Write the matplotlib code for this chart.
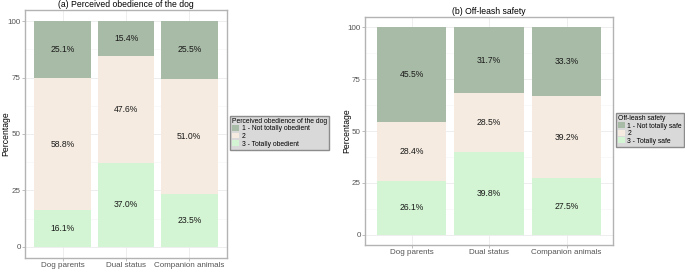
import numpy as np
import matplotlib.pyplot as plt
from matplotlib.patches import Patch

plt.rcParams['font.family'] = ['Liberation Sans', 'DejaVu Sans']

groups = ['Dog parents', 'Dual status', 'Companion animals']

# (a) perceived obedience, levels 1 / 2 / 3
obed_1 = [25.1, 15.4, 25.5]
obed_2 = [58.8, 47.6, 51.0]
obed_3 = [16.1, 37.0, 23.5]
obed_labels = ['1 - Not totally obedient', '2', '3 - Totally obedient']

# (b) off-leash safety
safe_1 = [45.5, 31.7, 33.3]
safe_2 = [28.4, 28.5, 39.2]
safe_3 = [26.1, 39.8, 27.5]
safe_labels = ['1 - Not totally safe', '2', '3 - Totally safe']

colors = ['#a8bba6', '#f5ebe0', '#d3f5d3']

fig = plt.figure(figsize=(6.85, 2.69), dpi=100)


def panel(ax, s1, s2, s3, title, leg_title, leg_labels, leg_pos, ylab_x):
    x = np.arange(len(groups))
    bottoms = np.zeros(len(groups))
    for vals, c in [(s3, colors[2]), (s2, colors[1]), (s1, colors[0])]:
        vals = np.array(vals)
        ax.bar(x, vals, bottom=bottoms, width=0.9, color=c, zorder=2)
        for xi, b, v in zip(x, bottoms, vals):
            ax.text(xi, b + v / 2, f'{v:.1f}%', ha='center', va='center',
                    fontsize=6.2, color='#1a1a1a', zorder=3)
        bottoms = bottoms + vals
    ax.set_xlim(-0.6, 2.6)
    ax.set_ylim(-5, 105)
    ax.set_yticks([0, 25, 50, 75, 100])
    ax.set_yticks([12.5, 37.5, 62.5, 87.5], minor=True)
    ax.set_xticks(x)
    ax.set_xticklabels(groups)
    ax.tick_params(axis='both', labelsize=5.8, colors='#b3b3b3', labelcolor='#555555',
                   length=2, width=0.6, pad=1)
    ax.tick_params(axis='y', which='minor', length=0)
    ax.grid(True, which='major', color='#ebebeb', lw=0.6, zorder=0)
    ax.grid(True, which='minor', axis='y', color='#f5f5f5', lw=0.4, zorder=0)
    for sp in ax.spines.values():
        sp.set_color('#b3b3b3')
        sp.set_linewidth(1.0)
    ax.set_ylabel('Percentage', fontsize=6.2, va='center')
    ax.yaxis.set_label_coords(ylab_x, 0.5)
    ax.set_title(title, fontsize=6.2, pad=2)
    handles = [Patch(facecolor=c, edgecolor='none') for c in colors]
    leg = fig.legend(handles, leg_labels, title=leg_title, loc='upper left',
                     bbox_to_anchor=leg_pos, fontsize=4.9, title_fontsize=4.9,
                     frameon=True, fancybox=False, handlelength=1.0, handleheight=0.9,
                     handletextpad=0.4, labelspacing=0.05, borderpad=0.3,
                     borderaxespad=0)
    leg._legend_box.align = 'left'
    fr = leg.get_frame()
    fr.set_facecolor('#d9d9d9')
    fr.set_edgecolor('#8c8c8c')
    fr.set_linewidth(1.0)
    fr.set_alpha(1)


ax1 = fig.add_axes([0.0365, 0.041, 0.295, 0.922])
panel(ax1, obed_1, obed_2, obed_3, '(a) Perceived obedience of the dog',
      'Perceived obedience of the dog', obed_labels, (0.336, 0.569), -0.096)

ax2 = fig.add_axes([0.533, 0.089, 0.362, 0.848])
panel(ax2, safe_1, safe_2, safe_3, '(b) Off-leash safety',
      'Off-leash safety', safe_labels, (0.899, 0.58), -0.073)

fig.savefig('out.png', dpi=100)
